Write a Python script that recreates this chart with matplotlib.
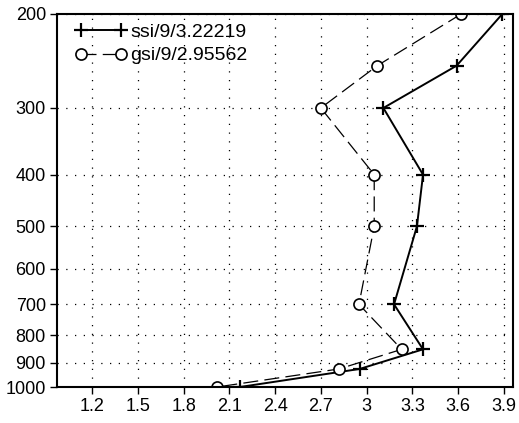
import matplotlib
matplotlib.use('Agg')
import matplotlib.pyplot as plt
from matplotlib.ticker import FixedLocator, NullLocator, FixedFormatter

# pressure levels (hPa)
levels = [200, 250, 300, 400, 500, 700, 850, 925, 1000]
# values
ssi = [3.89, 3.59, 3.11, 3.37, 3.33, 3.18, 3.37, 2.955, 2.17]
gsi = [3.62, 3.07, 2.70, 3.05, 3.05, 2.95, 3.23, 2.82, 2.02]
ssi_label = 'ssi/9/3.22219'
gsi_label = 'gsi/9/2.95562'

yticks = [200, 300, 400, 500, 600, 700, 800, 900, 1000]
xticks = [1.2, 1.5, 1.8, 2.1, 2.4, 2.7, 3, 3.3, 3.6, 3.9]
xticklabels = ['1.2', '1.5', '1.8', '2.1', '2.4', '2.7', '3', '3.3', '3.6', '3.9']

plt.rcParams['font.family'] = ['Liberation Sans', 'DejaVu Sans']

fig = plt.figure(figsize=(5.19, 4.23), dpi=100)
ax = fig.add_axes([57/519, 1-387/423, (513-57)/519, (387-14)/423])

ax.plot(ssi, levels, color='black', linestyle='-', linewidth=1.4,
        marker='+', markersize=10, markeredgewidth=1.6, label=ssi_label)
ax.plot(gsi, levels, color='black', linestyle=(0, (12, 5)), linewidth=0.9,
        marker='o', markersize=8, markerfacecolor='white', markeredgewidth=1.2,
        label=gsi_label)

ax.set_yscale('log')
ax.set_ylim(1000, 200)
ax.set_xlim(0.97, 3.96)
ax.yaxis.set_major_locator(FixedLocator(yticks))
ax.yaxis.set_major_formatter(FixedFormatter([str(v) for v in yticks]))
ax.yaxis.set_minor_locator(NullLocator())
ax.set_xticks(xticks)
ax.set_xticklabels(xticklabels)

ax.tick_params(axis='both', which='major', direction='out', length=5,
               width=1.0, labelsize=13, pad=3)
ax.grid(True, color='black', linestyle=(0, (1, 6)), linewidth=0.9)

for s in ax.spines.values():
    s.set_linewidth(1.5)

# legend handles carry a marker at each end
leg = ax.legend(loc='upper left', bbox_to_anchor=(0.039, 0.975),
                frameon=False, fontsize=14, numpoints=2,
                handlelength=2.7, handletextpad=0.15, labelspacing=0.3,
                borderaxespad=0, borderpad=0)

plt.savefig('out.png', dpi=100)
